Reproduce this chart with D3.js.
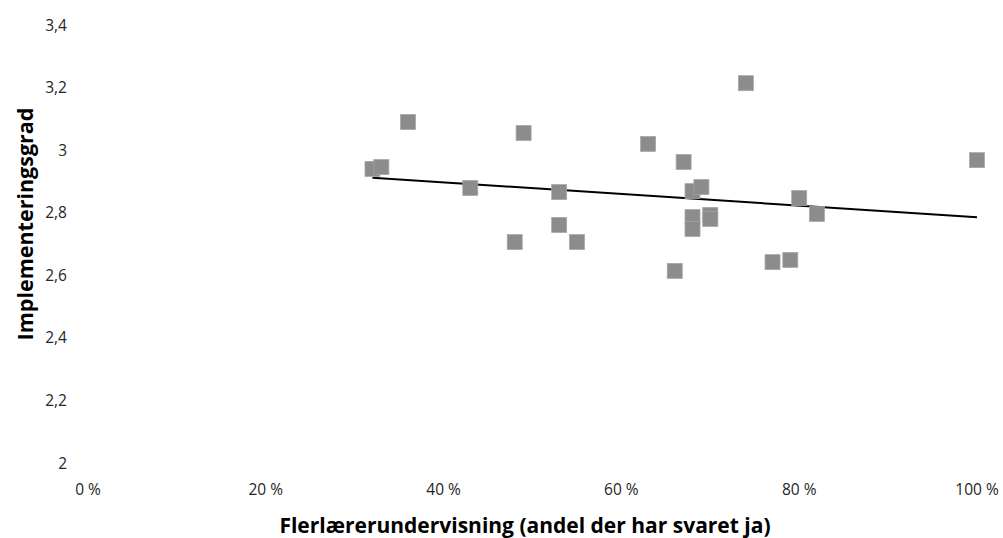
<!DOCTYPE html>
<html>
<head>
<meta charset="utf-8">
<script src="https://cdn.jsdelivr.net/npm/d3@7"></script>
<style>
body{margin:0;background:#fff;}
text{font-family:"Open Sans","Noto Sans",sans-serif;}
</style>
</head>
<body>
<div id="chart"></div>
<script>
// andel flerlærerundervisning (%) og implementeringsgrad
var andel=[32,33,36,43,48,49,53,53,55,63,66,67,68,68,68,69,70,70,74,77,79,80,82,100];
var grad=[2.94,2.946,3.09,2.879,2.706,3.055,2.866,2.761,2.706,3.02,2.614,2.962,2.869,2.786,2.748,2.882,2.793,2.78,3.214,2.642,2.649,2.847,2.796,2.968];
var xticks=[0,20,40,60,80,100];
var yticks=[2,2.2,2.4,2.6,2.8,3,3.2,3.4];

var W=1003,H=538;
var svg=d3.select("#chart").append("svg")
	.attr("width",W)
	.attr("height",H);

var x=d3.scaleLinear().domain([0,100]).range([88,977]);
var y=d3.scaleLinear().domain([2,3.4]).range([463,25]);

var fmt=function(d){ return String(+d.toFixed(1)).replace(".",","); };

// y tick labels
svg.selectAll("text.yt")
	.data(yticks)
	.enter()
	.append("text")
	.attr("class","yt")
	.attr("x",67)
	.attr("y",function(d){ return y(d);})
	.attr("dy","0.36em")
	.attr("text-anchor","end")
	.attr("font-size",15.5)
	.attr("fill","#262626")
	.text(fmt);

// x tick labels
svg.selectAll("text.xt")
	.data(xticks)
	.enter()
	.append("text")
	.attr("class","xt")
	.attr("x",function(d){ return x(d);})
	.attr("y",495)
	.attr("text-anchor","middle")
	.attr("font-size",15.5)
	.attr("fill","#262626")
	.text(function(d){ return d+" %";});

// linear trend (least squares)
var n=andel.length,
	mx=d3.mean(andel),
	my=d3.mean(grad),
	sxy=0,sxx=0;
for(var i=0;i<n;i++){
	sxy+=(andel[i]-mx)*(grad[i]-my);
	sxx+=(andel[i]-mx)*(andel[i]-mx);
}
var b=sxy/sxx,a=my-b*mx;
var x0=d3.min(andel),x1=d3.max(andel);

svg.append("line")
	.attr("x1",x(x0))
	.attr("y1",y(a+b*x0))
	.attr("x2",x(x1))
	.attr("y2",y(a+b*x1))
	.attr("stroke","#000")
	.attr("stroke-width",2);

// points
var s=15;
svg.selectAll("rect.pt")
	.data(andel)
	.enter()
	.append("rect")
	.attr("class","pt")
	.attr("x",function(d){ return x(d)-s/2;})
	.attr("y",function(d,i){ return y(grad[i])-s/2;})
	.attr("width",s)
	.attr("height",s)
	.attr("fill","#8c8c8c")
	.attr("stroke","#a6a6a6")
	.attr("stroke-width",0.75);

// axis titles
svg.append("text")
	.attr("x",525)
	.attr("y",533)
	.attr("text-anchor","middle")
	.attr("font-size",21)
	.attr("font-weight","bold")
	.attr("fill","#000")
	.text("Flerlærerundervisning (andel der har svaret ja)");

svg.append("text")
	.attr("transform","translate(33,224) rotate(-90)")
	.attr("text-anchor","middle")
	.attr("font-size",21.5)
	.attr("font-weight","bold")
	.attr("fill","#000")
	.text("Implementeringsgrad");
</script>
</body>
</html>
